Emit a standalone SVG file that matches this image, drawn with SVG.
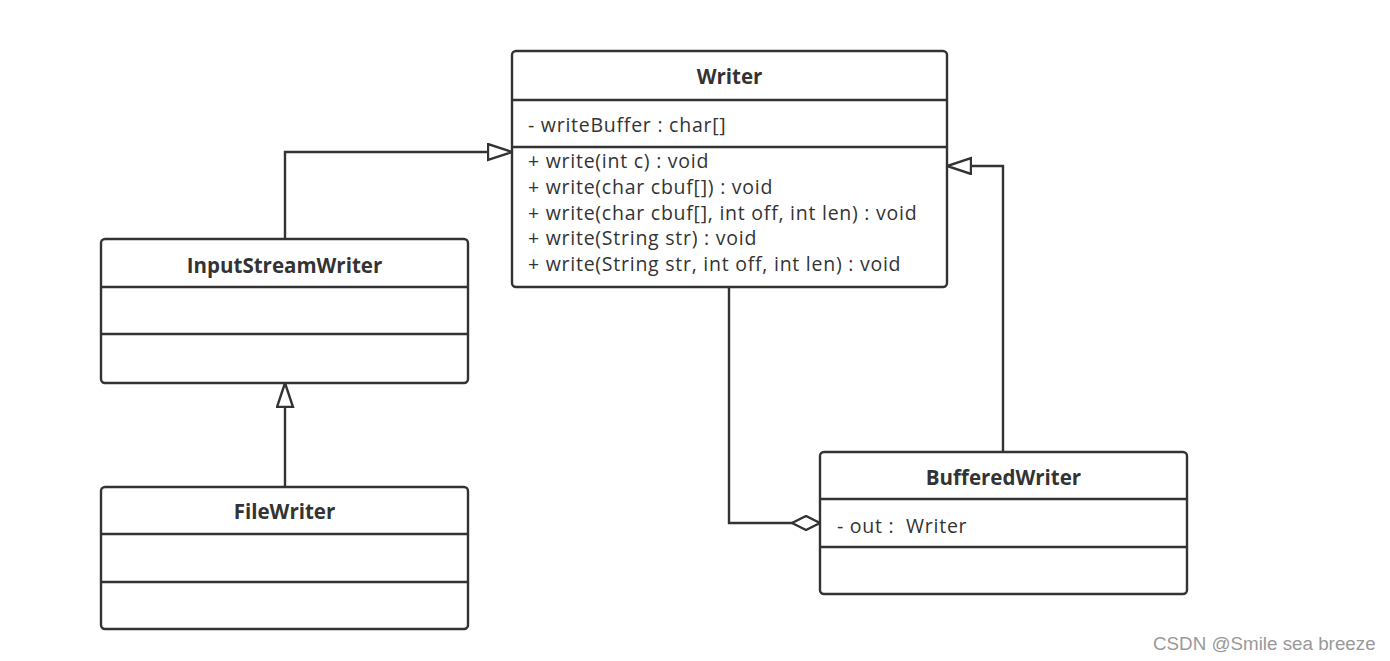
<svg xmlns="http://www.w3.org/2000/svg" width="1390" height="661" viewBox="0 0 1390 661">
<style>
.box{fill:#fff;stroke:#333;stroke-width:2.4}
.div{stroke:#333;stroke-width:2.4}
.title{font-family:"Open Sans","Noto Sans",sans-serif;font-weight:bold;font-size:20.5px;fill:#333;text-anchor:middle}
.mem{font-family:"Open Sans","Noto Sans",sans-serif;font-size:19.5px;letter-spacing:0.75px;fill:#333;white-space:pre}
.conn{fill:none;stroke:#333;stroke-width:2.4}
.wm{font-family:"Liberation Sans",Arial,sans-serif;font-size:18.8px;fill:#999}
</style>
<defs>
<marker id="tri" markerWidth="28" markerHeight="22" refX="25" refY="9" orient="auto" markerUnits="userSpaceOnUse">
<path d="M1,1 L25,9 L1,17 Z" fill="#fff" stroke="#333" stroke-width="2.4"/>
</marker>
<marker id="dia" markerWidth="32" markerHeight="18" refX="29" refY="8" orient="auto" markerUnits="userSpaceOnUse">
<path d="M1,8 L15,1 L29,8 L15,15 Z" fill="#fff" stroke="#333" stroke-width="2.4"/>
</marker>
</defs>
<g id="connectors">
<path class="conn" d="M285,239 L285,152 L512,152" marker-end="url(#tri)"/>
<path class="conn" d="M285,487 L285,383" marker-end="url(#tri)"/>
<path class="conn" d="M1003,452 L1003,166 L947,166" marker-end="url(#tri)"/>
<path class="conn" d="M729,287 L729,523 L820,523" marker-end="url(#dia)"/>
</g>
<g id="Writer">
<rect class="box" x="512" y="51" width="435" height="236" rx="4"/>
<line class="div" x1="512" y1="100" x2="947" y2="100"/>
<line class="div" x1="512" y1="147" x2="947" y2="147"/>
<text class="title" x="729.5" y="84">Writer</text>
<text class="mem" x="528" y="132">- writeBuffer : char[]</text>
<text class="mem" x="528" y="168">+ write(int c) : void</text>
<text class="mem" x="528" y="194">+ write(char cbuf[]) : void</text>
<text class="mem" x="528" y="220">+ write(char cbuf[], int off, int len) : void</text>
<text class="mem" x="528" y="245">+ write(String str) : void</text>
<text class="mem" x="528" y="271">+ write(String str, int off, int len) : void</text>
</g>
<g id="InputStreamWriter">
<rect class="box" x="101" y="239" width="367" height="144" rx="4"/>
<line class="div" x1="101" y1="287" x2="468" y2="287"/>
<line class="div" x1="101" y1="334" x2="468" y2="334"/>
<text class="title" x="284.5" y="273">InputStreamWriter</text>
</g>
<g id="FileWriter">
<rect class="box" x="101" y="487" width="367" height="142" rx="4"/>
<line class="div" x1="101" y1="534" x2="468" y2="534"/>
<line class="div" x1="101" y1="582" x2="468" y2="582"/>
<text class="title" x="284.5" y="519">FileWriter</text>
</g>
<g id="BufferedWriter">
<rect class="box" x="820" y="452" width="367" height="142" rx="4"/>
<line class="div" x1="820" y1="499" x2="1187" y2="499"/>
<line class="div" x1="820" y1="547" x2="1187" y2="547"/>
<text class="title" x="1003.5" y="485">BufferedWriter</text>
<text class="mem" x="837" y="533" xml:space="preserve">- out :  Writer</text>
</g>
<text class="wm" x="1153" y="650">CSDN @Smile sea breeze</text>
</svg>
